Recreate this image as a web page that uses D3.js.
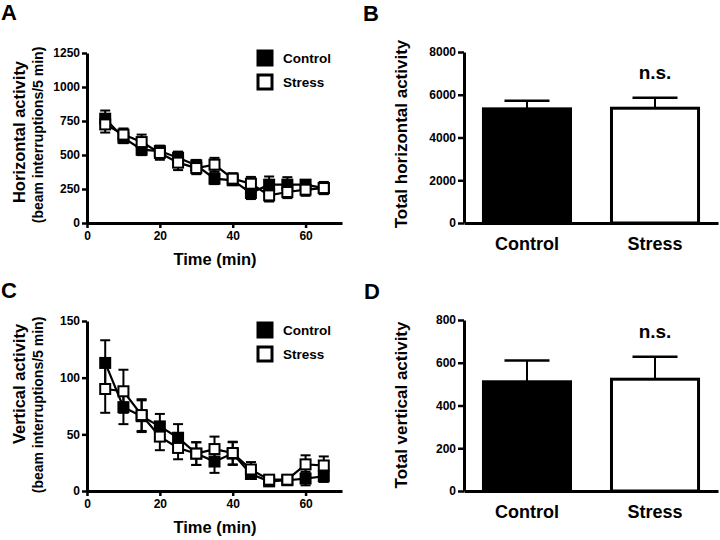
<!DOCTYPE html>
<html>
<head>
<meta charset="utf-8">
<script src="https://cdn.jsdelivr.net/npm/d3@7"></script>
<style>
body { margin: 0; background: #fff; }
text { font-family: "Liberation Sans", Arial, sans-serif; font-weight: bold; fill: #000; }
</style>
</head>
<body>
<svg id="fig" width="720" height="540"></svg>
<script>
// time points (min)
var times = [5, 10, 15, 20, 25, 30, 35, 40, 45, 50, 55, 60, 65];
var xTicks = [0, 20, 40, 60];

// A: horizontal activity per 5 min
var horizControl = [767, 627, 539, 529, 480, 424, 326, 314, 221, 282, 282, 282, 257];
var horizControlSem = [60, 40, 40, 40, 45, 40, 40, 35, 45, 60, 55, 25, 40];
var horizStress = [725, 650, 595, 515, 444, 404, 429, 326, 289, 203, 228, 245, 257];
var horizStressSem = [60, 45, 55, 50, 55, 45, 50, 40, 50, 45, 45, 45, 45];
var horizTicks = [0, 250, 500, 750, 1000, 1250];

// C: vertical activity per 5 min
var vertControl = [113, 74, 66, 57, 47, 33, 26, 33, 15, 8.5, 9.5, 11, 13];
var vertControlSem = [20, 15, 14, 11, 12, 10, 10, 10, 3.5, 3, 3, 6, 5];
var vertStress = [90, 88, 67, 48, 38, 33, 37, 33.5, 19, 10, 10, 23.5, 22.5];
var vertStressSem = [21, 19, 14, 12, 10, 10, 11, 10, 6.5, 4, 3, 8, 8];
var vertTicks = [0, 50, 100, 150];

// B / D: totals
var groups = ["Control", "Stress"];
var horizTotal = [5340, 5370];
var horizTotalSem = [375, 485];
var horizTotalTicks = [0, 2000, 4000, 6000, 8000];
var vertTotal = [511, 523];
var vertTotalSem = [100, 105];
var vertTotalTicks = [0, 200, 400, 600, 800];

var svg = d3.select("#fig");
var fmt = d3.format("d");

function styleAxis(g, fontSize) {
    g.attr("font-family", null).attr("font-size", null);
    g.select(".domain").attr("stroke", "#000").attr("stroke-width", 3);
    g.selectAll(".tick line").attr("stroke", "#000").attr("stroke-width", 2.5);
    g.selectAll(".tick text").style("font-size", fontSize + "px");
}

function panelLetter(letter, x, y) {
    svg.append("text").attr("x", x).attr("y", y)
        .style("font-size", "22px").text(letter);
}

function linePanel(o) {
    var x = d3.scaleLinear().domain([0, 70]).range([87, 342]);
    var y = d3.scaleLinear().domain([0, o.yMax]).range([o.bottom, o.top]);

    var series = [
        {vals: o.control, sem: o.controlSem, fill: "#000"},
        {vals: o.stress, sem: o.stressSem, fill: "#fff"}
    ];

    var line = d3.line()
        .x(function (d, i) { return x(times[i]); })
        .y(function (d) { return y(d); });

    series.forEach(function (s) {
        var g = svg.append("g");
        // error bars
        s.vals.forEach(function (v, i) {
            var cx = x(times[i]);
            g.append("line").attr("x1", cx).attr("x2", cx)
                .attr("y1", y(v - s.sem[i])).attr("y2", y(v + s.sem[i]))
                .attr("stroke", "#000").attr("stroke-width", 2);
            [v - s.sem[i], v + s.sem[i]].forEach(function (e) {
                g.append("line").attr("x1", cx - 5).attr("x2", cx + 5)
                    .attr("y1", y(e)).attr("y2", y(e))
                    .attr("stroke", "#000").attr("stroke-width", 2);
            });
        });
        g.append("path").attr("d", line(s.vals))
            .attr("fill", "none").attr("stroke", "#000").attr("stroke-width", 2.2);
        g.selectAll("rect").data(s.vals).enter().append("rect")
            .attr("x", function (d, i) { return x(times[i]) - 5; })
            .attr("y", function (d) { return y(d) - 5; })
            .attr("width", 10).attr("height", 10)
            .attr("fill", s.fill).attr("stroke", "#000").attr("stroke-width", 2);
    });

    svg.append("g").attr("transform", "translate(87,0)")
        .call(d3.axisLeft(y).tickValues(o.yTicks).tickFormat(fmt).tickSize(5).tickSizeOuter(0).tickPadding(2))
        .call(styleAxis, 12);
    svg.append("g").attr("transform", "translate(0," + o.bottom + ")")
        .call(d3.axisBottom(x).tickValues(xTicks).tickFormat(fmt).tickSize(5).tickSizeOuter(0).tickPadding(3))
        .call(styleAxis, 12);

    svg.append("text").attr("x", 215).attr("y", o.bottom + 42)
        .attr("text-anchor", "middle").style("font-size", "16.5px").text("Time (min)");

    svg.append("text").attr("text-anchor", "middle")
        .attr("transform", "translate(25," + o.t1y + ") rotate(-90)")
        .style("font-size", "16.5px").text(o.title1);
    svg.append("text").attr("text-anchor", "middle")
        .attr("transform", "translate(43," + o.t2y + ") rotate(-90)")
        .style("font-size", "14px").text("(beam interruptions/5 min)");

    // legend
    groups.forEach(function (name, i) {
        var ly = o.legendY + i * 24;
        svg.append("rect").attr("x", 258).attr("y", ly).attr("width", 14).attr("height", 14)
            .attr("fill", i === 0 ? "#000" : "#fff")
            .attr("stroke", "#000").attr("stroke-width", 3);
        svg.append("text").attr("x", 283).attr("y", ly + 12)
            .style("font-size", "13.5px").text(name);
    });
}

function barPanel(o) {
    var x = d3.scaleBand().domain(groups).range([464, 718])
        .paddingInner(0.32).paddingOuter(0.152);
    var y = d3.scaleLinear().domain([0, o.yMax]).range([o.bottom, o.top]);
    var bw = x.bandwidth();

    groups.forEach(function (gname, i) {
        var cx = x(gname) + bw / 2;
        var top = y(o.vals[i]), errTop = y(o.vals[i] + o.sem[i]);
        svg.append("line").attr("x1", cx).attr("x2", cx)
            .attr("y1", top).attr("y2", errTop)
            .attr("stroke", "#000").attr("stroke-width", 2);
        svg.append("line").attr("x1", cx - 22.5).attr("x2", cx + 22.5)
            .attr("y1", errTop).attr("y2", errTop)
            .attr("stroke", "#000").attr("stroke-width", 2.5);
        svg.append("rect").attr("x", x(gname)).attr("y", top)
            .attr("width", bw).attr("height", o.bottom - top)
            .attr("fill", i === 0 ? "#000" : "#fff")
            .attr("stroke", "#000").attr("stroke-width", 3);
    });

    svg.append("text").attr("x", x("Stress") + bw / 2)
        .attr("y", y(o.vals[1] + o.sem[1]) - 19)
        .attr("text-anchor", "middle").style("font-size", "19px").text("n.s.");

    svg.append("g").attr("transform", "translate(464,0)")
        .call(d3.axisLeft(y).tickValues(o.yTicks).tickFormat(fmt).tickSize(6).tickSizeOuter(0).tickPadding(2))
        .call(styleAxis, 12);
    svg.append("g").attr("transform", "translate(0," + o.bottom + ")")
        .call(d3.axisBottom(x).tickSize(0).tickPadding(14))
        .call(styleAxis, 18);

    svg.append("text").attr("text-anchor", "middle")
        .attr("transform", "translate(407," + o.ty + ") rotate(-90)")
        .style("font-size", "17px").text(o.title);
}

panelLetter("A", 1, 20);
panelLetter("B", 363, 21);
panelLetter("C", 1, 298);
panelLetter("D", 364, 299);

linePanel({
    top: 53, bottom: 223, yMax: 1250, yTicks: horizTicks,
    control: horizControl, controlSem: horizControlSem,
    stress: horizStress, stressSem: horizStressSem,
    title1: "Horizontal activity", t1y: 132, t2y: 135, legendY: 51
});

linePanel({
    top: 321, bottom: 491, yMax: 150, yTicks: vertTicks,
    control: vertControl, controlSem: vertControlSem,
    stress: vertStress, stressSem: vertStressSem,
    title1: "Vertical activity", t1y: 384, t2y: 405, legendY: 323
});

barPanel({
    top: 52, bottom: 223, yMax: 8000, yTicks: horizTotalTicks,
    vals: horizTotal, sem: horizTotalSem,
    title: "Total horizontal activity", ty: 134
});

barPanel({
    top: 320, bottom: 491, yMax: 800, yTicks: vertTotalTicks,
    vals: vertTotal, sem: vertTotalSem,
    title: "Total vertical activity", ty: 405
});
</script>
</body>
</html>
